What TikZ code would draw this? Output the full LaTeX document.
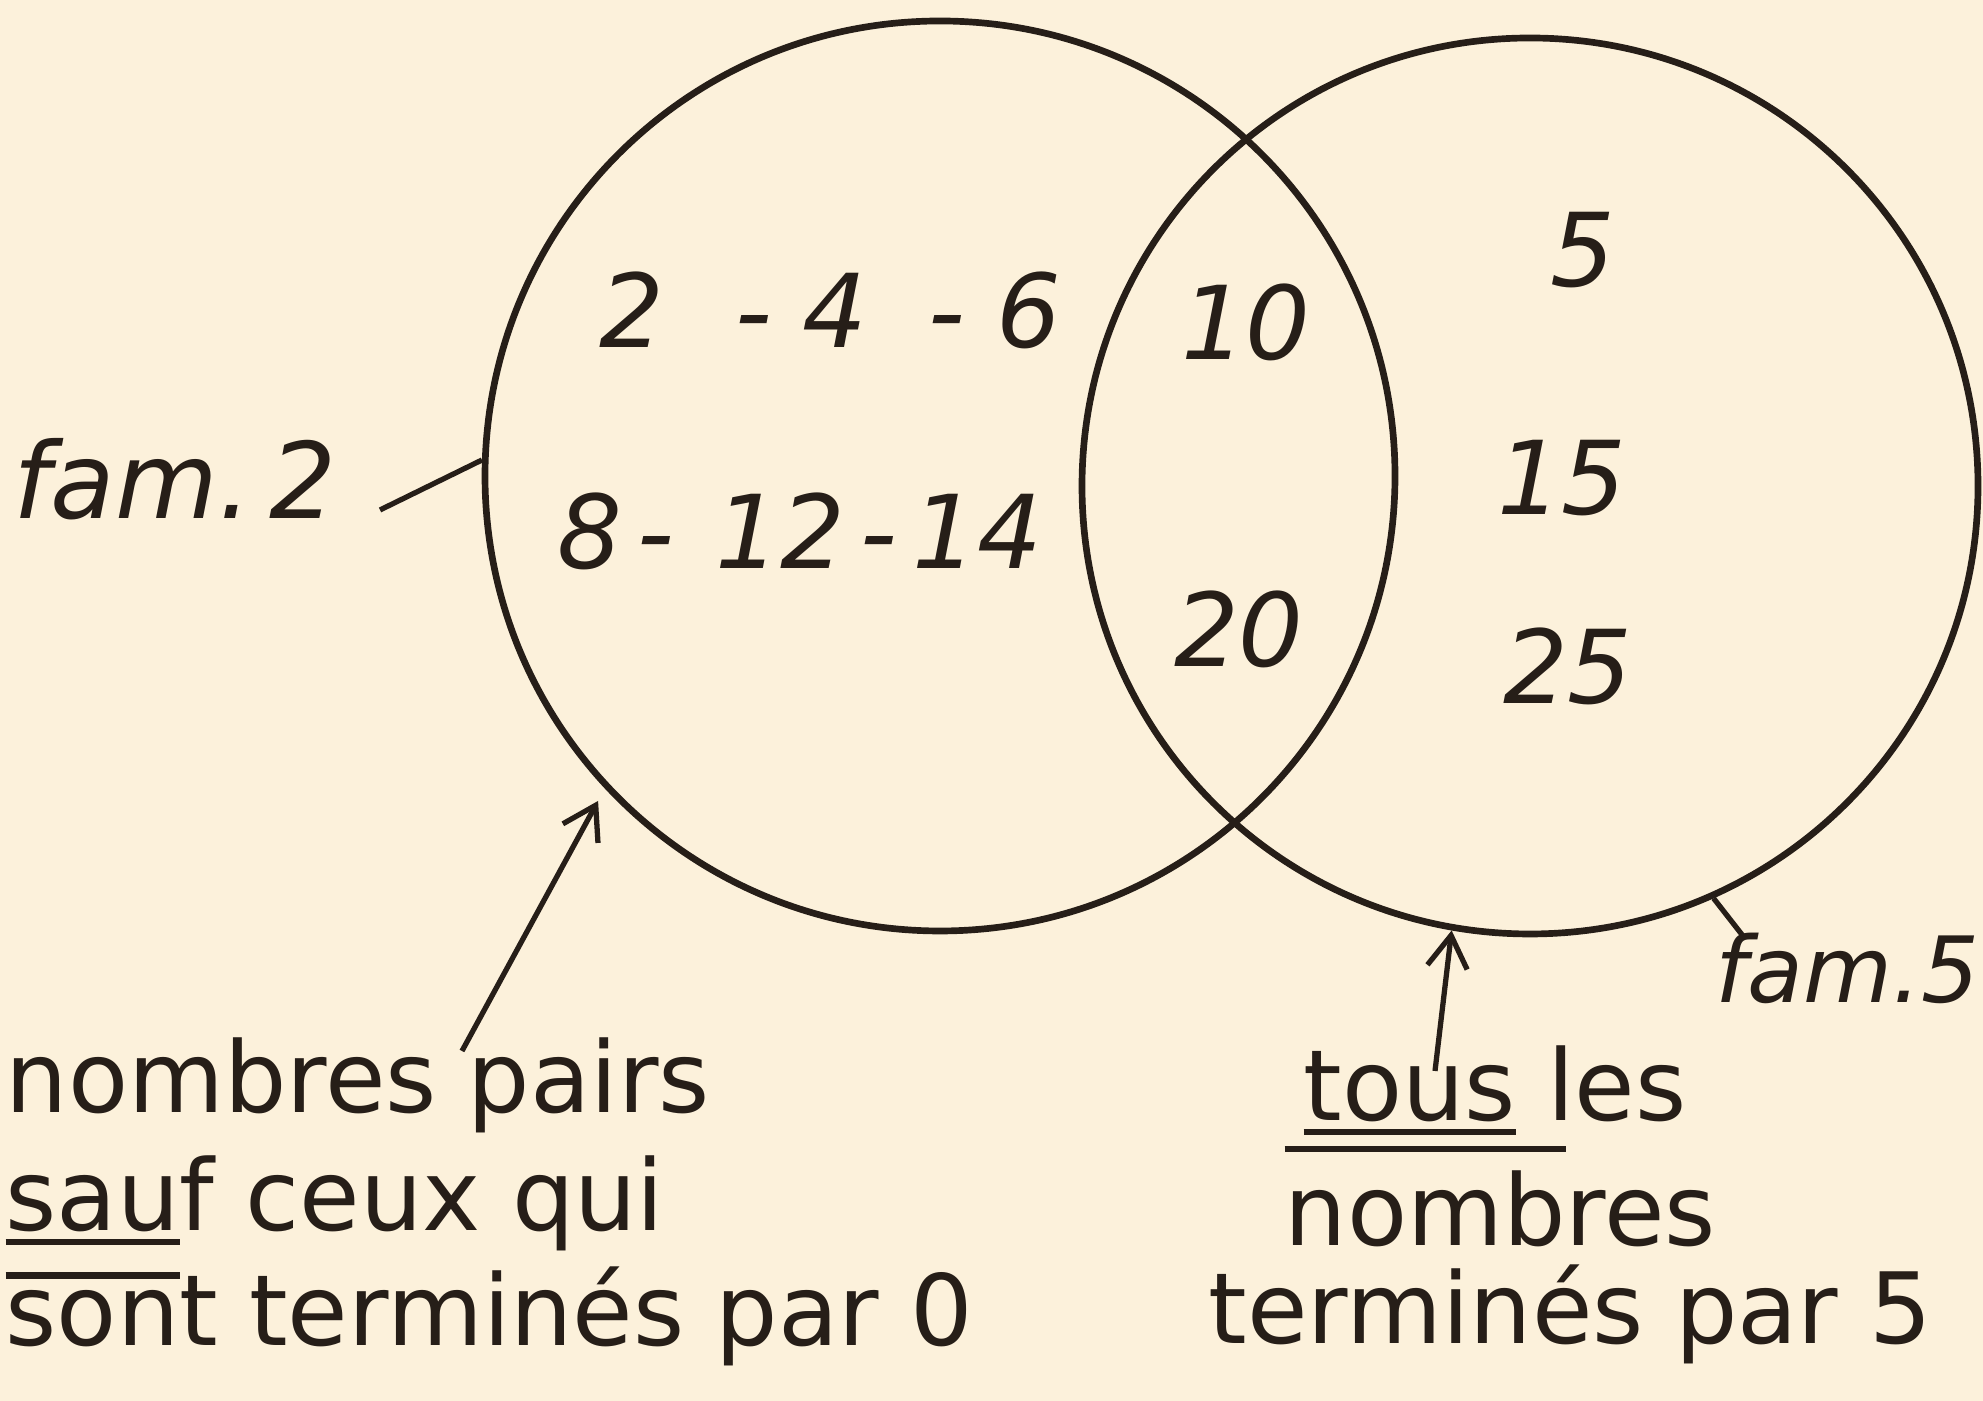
\documentclass[tikz,border=0pt]{standalone}
\usepackage{fontspec}
\setmainfont{DejaVu Sans}
\usepackage{tikz}
\usetikzlibrary{arrows.meta}
\definecolor{paper}{RGB}{252,241,219}
\definecolor{ink}{RGB}{38,30,24}
\tikzstyle{arrow} = [line width=1.5pt, draw=ink, -{Straight Barb[length=3.2mm,width=4mm]}]
\newsavebox\markbox
\newcommand\ulmark[1]{\sbox\markbox{#1}\rlap{\rule[-0.14em]{\wd\markbox}{0.06em}}\usebox\markbox}
\newcommand\olmark[2][0.68em]{\sbox\markbox{#2}\rlap{\rule[#1]{\wd\markbox}{0.07em}}\usebox\markbox}

\begin{document}
\begin{tikzpicture}[
    famcircle/.style={circle, draw=ink, line width=1.9pt, minimum size=#1, inner sep=0pt},
    num/.style={text=ink, font=\fontsize{29}{34}\selectfont\itshape},
    famlab/.style={text=ink, anchor=base west, inner sep=0pt,
                   font=\fontsize{30}{34}\selectfont\itshape},
    note/.style={text=ink, anchor=base west, inner sep=0pt,
                 font=\fontsize{28}{34}\selectfont},
    tick/.style={draw=ink, line width=1.5pt}]

  \fill[paper] (0,0) rectangle (19.83,14.01);
  \useasboundingbox (0,0) rectangle (19.83,14.01);

  % the two families
  \node[famcircle=9.10cm] (fam2) at (9.40,9.25) {};
  \node[famcircle=8.96cm] (fam5) at (15.30,9.15) {};

  \node[num] (n246)   at (8.30,10.91) {2\hspace{.7em}-\hspace{.3em}4\hspace{.6em}-\hspace{.3em}6};
  \node[num] (n81214) at (8.00, 8.70) {8\hspace{.15em}-\hspace{.4em}12\hspace{.15em}-\hspace{.15em}14};
  \node[num] (n10)    at (12.46,10.79) {10};
  \node[num] (n20)    at (12.39, 7.72) {20};
  \node[num] (n5)     at (15.83,11.51) {5};
  \node[num] (n15)    at (15.62, 9.23) {15};
  \node[num] (n25)    at (15.68, 7.35) {25};

  % names of the families
  \node[famlab] (lab2) at (0.13,8.82) {fam.\,2};
  \node[famlab, font=\fontsize{26}{30}\selectfont\itshape] (lab5) at (17.15,3.98) {fam.5};
  \coordinate (tick2) at (3.80,8.91);
  \coordinate (tick5) at (17.43,4.65);
  \draw[tick] (tick2) -- (fam2.178);
  \draw[tick] (fam5.294) -- (tick5);

  % notes below
  \node[note] (pairs1) at (0.05,2.88) {nombres pairs};
  \node[note] (pairs2) at (0.05,1.70) {\ulmark{sau}f ceux qui};
  \node[note] (pairs3) at (0.05,0.55) {\olmark{son}t terminés par 0};
  \node[note] (tous1)  at (13.03,2.80) {\ulmark{tous} les};
  \node[note] (tous2)  at (12.84,1.55) {\olmark[0.95em]{nomb}res};
  \node[note] (tous3)  at (12.08,0.57) {terminés par 5};

  \coordinate (from2) at (4.62,3.50);
  \coordinate (from5) at (14.35,3.30);
  \draw[arrow, shorten >=4pt] (from2) -- (fam2.223);
  \draw[arrow] (from5) -- (fam5.260);
\end{tikzpicture}
\end{document}
